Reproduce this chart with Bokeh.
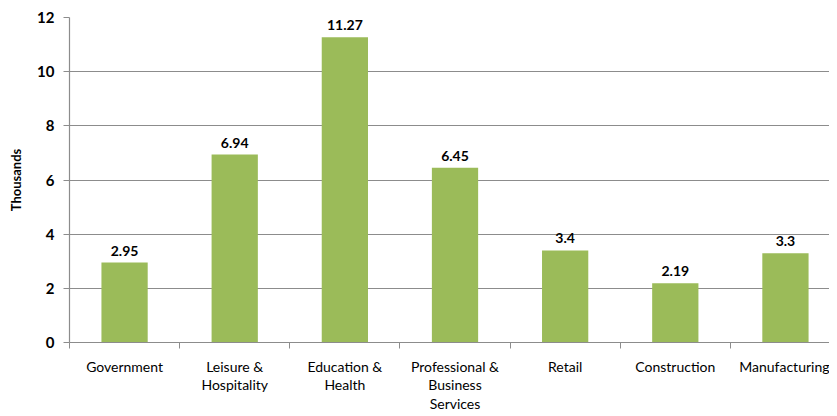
from bokeh.plotting import figure
from bokeh.models import ColumnDataSource, Range1d, FixedTicker, LabelSet
from bokeh.core.properties import value
from bokeh.embed import file_html
from bokeh.resources import INLINE

categories = ["Government", "Leisure & Hospitality", "Education & Health",
              "Professional & Business Services", "Retail", "Construction", "Manufacturing"]
tick_labels = ["Government", "Leisure &\nHospitality", "Education &\nHealth",
               "Professional &\nBusiness\nServices", "Retail", "Construction", "Manufacturing"]
values = [2.95, 6.94, 11.27, 6.45, 3.4, 2.19, 3.3]
value_labels = ["2.95", "6.94", "11.27", "6.45", "3.4", "2.19", "3.3"]
y_ticks = [0, 2, 4, 6, 8, 10, 12]

xpos = [i + 0.5 for i in range(len(categories))]
boundaries = [i for i in range(len(categories) + 1)]

src = ColumnDataSource(dict(x=xpos, top=values, lab=value_labels, cat=categories))

FONT = "Lato"
GRID = "#8c8c8c"

p = figure(width=829, height=414, output_backend="svg", toolbar_location=None,
           x_range=Range1d(0, 6.9), y_range=Range1d(0, 12),
           min_border_left=69, min_border_right=0, min_border_top=17, min_border_bottom=72)
p.outline_line_color = None

p.vbar(x="x", top="top", bottom=0, width=0.42, source=src,
       fill_color="#9BBB59", line_color=None)

labels = LabelSet(x="x", y="top", text="lab", source=src, text_align="center",
                  text_baseline="bottom", y_offset=7, text_font=value(FONT),
                  text_font_size="14px", text_font_style="bold", text_color="#000000")
p.add_layout(labels)

# x axis
p.xaxis.ticker = FixedTicker(ticks=xpos, minor_ticks=boundaries)
p.xaxis.major_label_overrides = {x: t for x, t in zip(xpos, tick_labels)}
p.xaxis.major_tick_line_color = None
p.xaxis.major_tick_out = 0
p.xaxis.major_tick_in = 0
p.xaxis.minor_tick_line_color = GRID
p.xaxis.minor_tick_out = 6
p.xaxis.minor_tick_in = 0
p.xaxis.axis_line_color = GRID
p.xaxis.axis_line_width = 1.2
p.xaxis.major_label_text_font = FONT
p.xaxis.major_label_text_font_size = "14px"
p.xaxis.major_label_text_color = "#000000"
p.xaxis.major_label_standoff = 9
p.xaxis.major_label_text_line_height = 1.1
p.xgrid.visible = False

# y axis
p.yaxis.ticker = FixedTicker(ticks=y_ticks)
p.yaxis.major_tick_line_color = GRID
p.yaxis.major_tick_out = 6
p.yaxis.major_tick_in = 0
p.yaxis.minor_tick_line_color = None
p.yaxis.axis_line_color = GRID
p.yaxis.axis_line_width = 1.2
p.yaxis.major_label_text_font = FONT
p.yaxis.major_label_text_font_size = "15px"
p.yaxis.major_label_text_font_style = "bold"
p.yaxis.major_label_text_color = "#000000"
p.yaxis.major_label_standoff = 9
p.yaxis.axis_label = "Thousands"
p.yaxis.axis_label_text_font = FONT
p.yaxis.axis_label_text_font_size = "13px"
p.yaxis.axis_label_text_font_style = "bold"
p.yaxis.axis_label_text_color = "#000000"
p.yaxis.axis_label_standoff = 10
p.ygrid.grid_line_color = GRID
p.ygrid.grid_line_width = 1.2

open("out.html", "w").write(file_html(p, INLINE))
